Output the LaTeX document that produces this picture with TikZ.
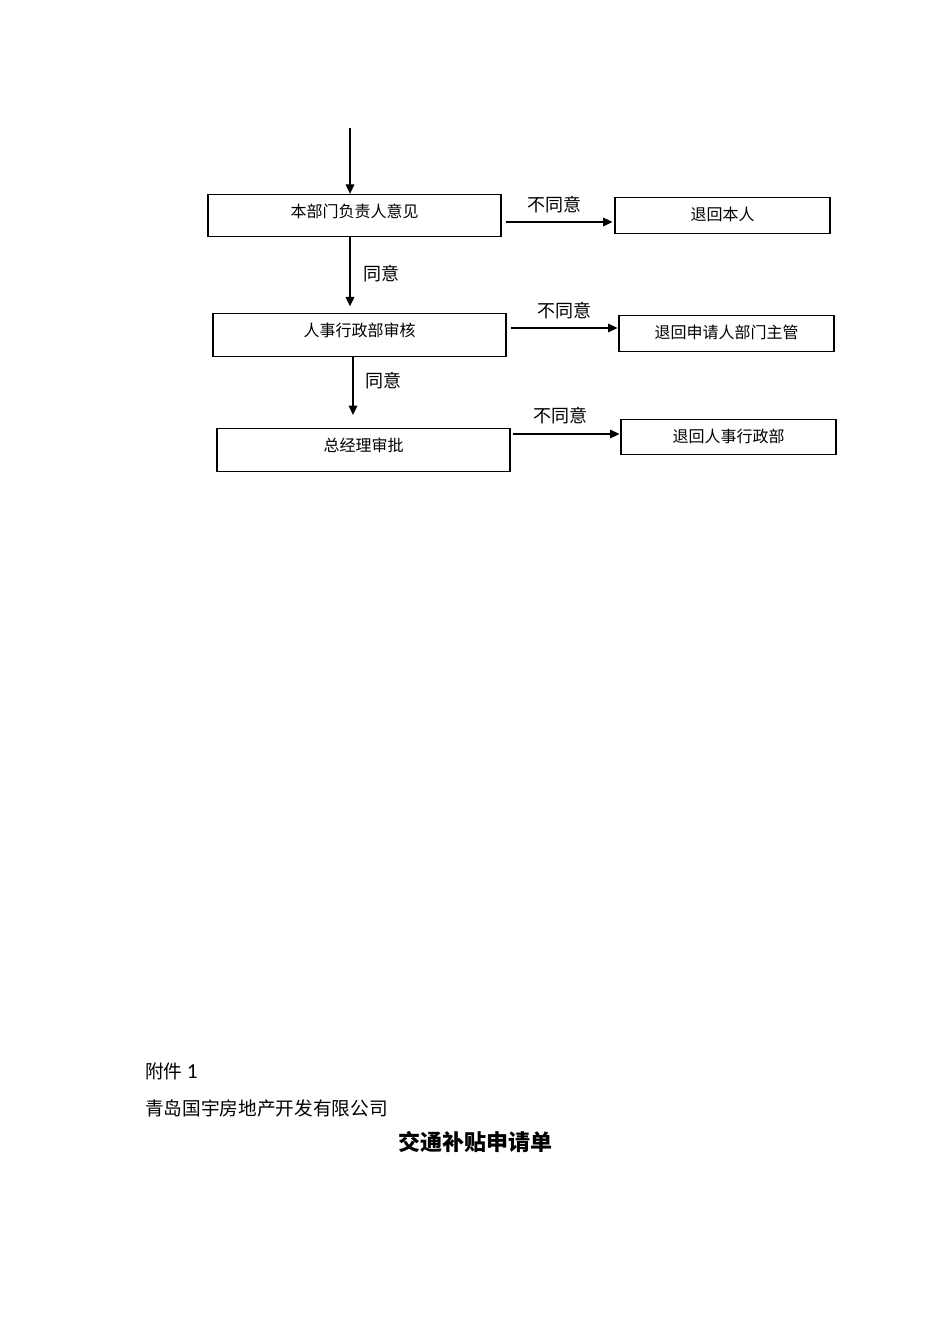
\documentclass[tikz,border=0pt]{standalone}
\usepackage{fontspec}
\setmainfont{Carlito}
\newfontfamily\cjk{Noto Sans CJK SC}
\usetikzlibrary{arrows.meta,calc}
\begin{document}
\begin{tikzpicture}[x=0.75pt,y=-0.75pt,
  box/.style={draw,line width=0.8pt,inner sep=0pt,font=\cjk\fontsize{12}{14}\selectfont},
  mainbox/.style={box,minimum width=219.75pt,minimum height=31.75pt},
  retbox/.style={box,minimum width=161.25pt,minimum height=26.5pt},
  boxtext/.style={inner sep=0pt,font=\cjk\fontsize{12}{14}\selectfont},
  arr/.style={line width=0.8pt,-{Triangle[length=7pt,width=6.5pt]}},
  lbl/.style={font=\cjk\fontsize{13.5}{15}\selectfont,inner sep=0pt}]
\useasboundingbox (0,0) rectangle (950,1344);
% main column
\node[mainbox] (B1) at (354.5,215.5) {};
\node[mainbox] (B2) at (359.5,335) {};
\node[mainbox] (B3) at (363.5,450) {};
\node[boxtext] at ($(B1.center)+(0,-4)$) {本部门负责人意见};
\node[boxtext] at ($(B2.center)+(0,-5)$) {人事行政部审核};
\node[boxtext] at ($(B3.center)+(0,-5)$) {总经理审批};
% return boxes
\node[retbox] (R1) at (722.5,215.5) {};
\node[retbox] (R2) at (726.5,333.5) {};
\node[retbox] (R3) at (728.5,437) {};
\node[boxtext] at ($(R1.center)+(0,-1.5)$) {退回本人};
\node[boxtext] at ($(R2.center)+(0,-1)$) {退回申请人部门主管};
\node[boxtext] at ($(R3.center)+(0,-1)$) {退回人事行政部};
% vertical arrows
\coordinate (top) at (350,128);
\draw[arr] (top) -- (top |- B1.north);
\draw[arr,shorten >=5.25pt] (top |- B1.south) -- (top |- B2.north);
\coordinate (c2) at (353,356);
\draw[arr,shorten >=10pt] (c2 |- B2.south) -- (c2 |- B3.north);
\node[lbl] at (381,274) {同意};
\node[lbl] at (383,381) {同意};
% horizontal arrows
\draw[arr] ($(B1.east)+(4,6.5)$) -- ($(R1.west)+(-2,6.5)$);
\draw[arr] ($(B2.east)+(4,-7)$) -- ($(R2.west)+(-1,-5.5)$);
\draw[arr] ($(B3.east)+(2,-16)$) -- ($(R3.west)+(-1,-3)$);
\node[lbl] at (554,205) {不同意};
\node[lbl] at (564,311) {不同意};
\node[lbl] at (560,416) {不同意};
% footer text
\node[anchor=west,inner sep=0pt,font=\cjk\fontsize{14}{16}\selectfont] (fj) at (145,1071) {附件 {\fontspec{Carlito}\fontsize{16}{18}\selectfont 1}};
\node[anchor=west,inner sep=0pt,font=\cjk\fontsize{14}{16}\selectfont] (co) at (145,1108) {青岛国宇房地产开发有限公司};
\node[inner sep=0pt,font=\cjk\bfseries\fontsize{16.5}{18}\selectfont] (ti) at (475,1142) {交通补贴申请单};
\end{tikzpicture}
\end{document}
